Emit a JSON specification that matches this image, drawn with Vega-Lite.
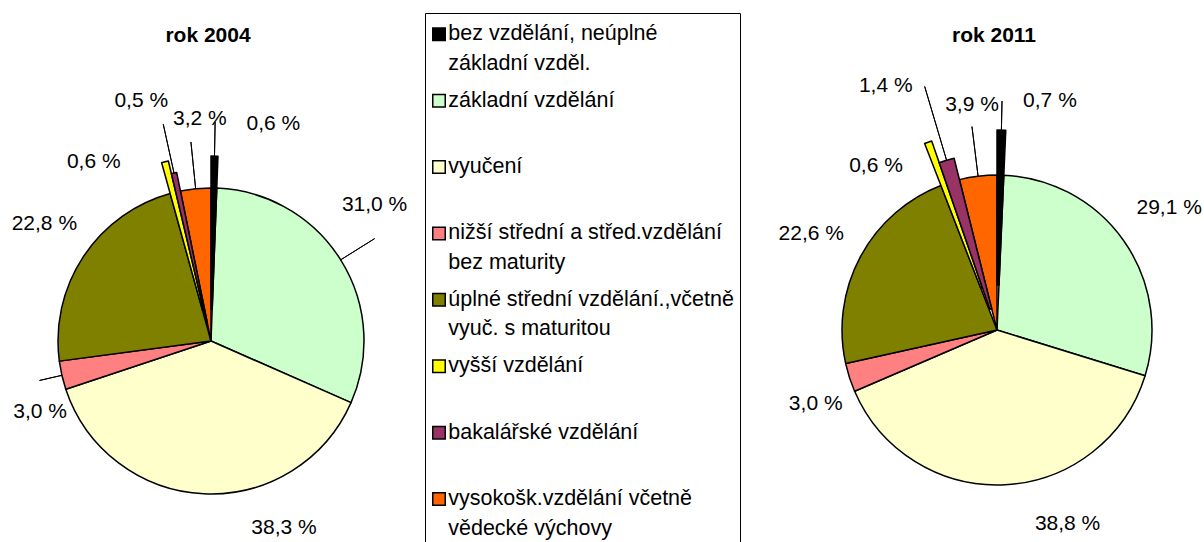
{
  "$schema": "https://vega.github.io/schema/vega-lite/v6.json",
  "width": 1204,
  "height": 542,
  "padding": 0,
  "autosize": {"type": "none"},
  "config": {
    "view": {"stroke": null},
    "font": "Liberation Sans",
    "locale": {"number": {"decimal": ",", "thousands": " ", "grouping": [3], "currency": ["", " Kč"], "percent": " %"}}
  },
  "datasets": {
    "podily": [
      {"rok": "2004", "idx": 1, "kat": "bez vzdělání, neúplné základní vzděl.", "p": 0.006},
      {"rok": "2004", "idx": 2, "kat": "základní vzdělání", "p": 0.310},
      {"rok": "2004", "idx": 3, "kat": "vyučení", "p": 0.383},
      {"rok": "2004", "idx": 4, "kat": "nižší střední a střed.vzdělání bez maturity", "p": 0.030},
      {"rok": "2004", "idx": 5, "kat": "úplné střední vzdělání.,včetně vyuč. s maturitou", "p": 0.228},
      {"rok": "2004", "idx": 6, "kat": "vyšší vzdělání", "p": 0.006},
      {"rok": "2004", "idx": 7, "kat": "bakalářské vzdělání", "p": 0.005},
      {"rok": "2004", "idx": 8, "kat": "vysokošk.vzdělání včetně vědecké výchovy", "p": 0.032},
      {"rok": "2011", "idx": 1, "kat": "bez vzdělání, neúplné základní vzděl.", "p": 0.007},
      {"rok": "2011", "idx": 2, "kat": "základní vzdělání", "p": 0.291},
      {"rok": "2011", "idx": 3, "kat": "vyučení", "p": 0.388},
      {"rok": "2011", "idx": 4, "kat": "nižší střední a střed.vzdělání bez maturity", "p": 0.030},
      {"rok": "2011", "idx": 5, "kat": "úplné střední vzdělání.,včetně vyuč. s maturitou", "p": 0.226},
      {"rok": "2011", "idx": 6, "kat": "vyšší vzdělání", "p": 0.006},
      {"rok": "2011", "idx": 7, "kat": "bakalářské vzdělání", "p": 0.014},
      {"rok": "2011", "idx": 8, "kat": "vysokošk.vzdělání včetně vědecké výchovy", "p": 0.039}
    ],
    "nadpisy": [
      {"rok": "2004", "nazev": "rok 2004"},
      {"rok": "2011", "nazev": "rok 2011"}
    ]
  },
  "data": {"name": "podily"},
  "encoding": {
    "x": {"field": "rok", "type": "nominal", "axis": null, "scale": {"type": "point", "domain": ["2004", "2011"], "range": [211, 997], "padding": 0}},
    "y": {"field": "rok", "type": "nominal", "axis": null, "scale": {"type": "point", "domain": ["2004", "2011"], "range": [341, 330], "padding": 0}},
    "color": {
      "field": "kat",
      "type": "nominal",
      "scale": {
        "domain": ["bez vzdělání, neúplné základní vzděl.", "základní vzdělání", "vyučení", "nižší střední a střed.vzdělání bez maturity", "úplné střední vzdělání.,včetně vyuč. s maturitou", "vyšší vzdělání", "bakalářské vzdělání", "vysokošk.vzdělání včetně vědecké výchovy"],
        "range": ["#000000", "#CCFFCC", "#FFFFCC", "#FF8080", "#808000", "#FFFF00", "#993366", "#FF6600"]
      },
      "legend": {
        "title": " ",
        "titleFontSize": 2,
        "titlePadding": 2.5,
        "orient": "none",
        "legendX": 425,
        "legendY": 13,
        "direction": "vertical",
        "strokeColor": "#000000",
        "padding": 6,
        "symbolType": "square",
        "symbolSize": 156,
        "symbolStrokeColor": "#000000",
        "symbolStrokeWidth": 1.5,
        "symbolOpacity": 1,
        "symbolOffset": -2.75,
        "labelFont": "Liberation Sans",
        "labelFontSize": 21.5,
        "labelColor": "#000000",
        "labelOffset": -1.5,
        "labelLimit": 0,
        "labelBaseline": "middle",
        "rowPadding": 14.4,
        "gridAlign": "all",
        "labelExpr": "datum.label == 'bez vzdělání, neúplné základní vzděl.' ? ['bez vzdělání, neúplné', 'základní vzděl.'] : datum.label == 'nižší střední a střed.vzdělání bez maturity' ? ['nižší střední a střed.vzdělání', 'bez maturity'] : datum.label == 'úplné střední vzdělání.,včetně vyuč. s maturitou' ? ['úplné střední vzdělání.,včetně', 'vyuč. s maturitou'] : datum.label == 'vysokošk.vzdělání včetně vědecké výchovy' ? ['vysokošk.vzdělání včetně', 'vědecké výchovy'] : datum.label",
        "encode": {
          "labels": {"update": {"lineHeight": {"value": 29.5}}},
          "symbols": {"update": {"stroke": {"value": "#000000"}, "strokeWidth": {"value": 1.5}}}
        }
      }
    }
  },
  "layer": [
    {
      "transform": [{"filter": "datum.rok === '2004'"}],
      "encoding": {
        "theta": {"field": "p", "type": "quantitative", "stack": true},
        "order": {"field": "idx", "type": "quantitative"}
      },
      "layer": [
        {"mark": {"type": "arc", "radius": 153, "stroke": "#000000", "strokeWidth": 1.5, "strokeJoin": "round"},
         "encoding": {"opacity": {"condition": {"test": "datum.idx === 1 || datum.idx === 6 || datum.idx === 7", "value": 0}, "value": 1}}},
        {"mark": {"type": "arc", "radius": 185, "radius2": 32, "stroke": "#000000", "strokeWidth": 1.5, "strokeJoin": "round"},
         "encoding": {"opacity": {"condition": {"test": "datum.idx === 1 || datum.idx === 6", "value": 1}, "value": 0}}},
        {"mark": {"type": "arc", "radius": 172, "radius2": 19, "stroke": "#000000", "strokeWidth": 1.5, "strokeJoin": "round"},
         "encoding": {"opacity": {"condition": {"test": "datum.idx === 7", "value": 1}, "value": 0}}},
        {"mark": {"type": "arc", "radius": 193, "radius2": 153, "padAngle": 3.14, "filled": false, "strokeWidth": 1},
         "encoding": {"color": {"value": "#000000"}, "opacity": {"condition": {"test": "datum.idx === 2", "value": 1}, "value": 0}}},
        {"mark": {"type": "arc", "radius": 176, "radius2": 153, "padAngle": 3.14, "filled": false, "strokeWidth": 1},
         "encoding": {"color": {"value": "#000000"}, "opacity": {"condition": {"test": "datum.idx === 4", "value": 1}, "value": 0}}},
        {"mark": {"type": "arc", "radius": 200, "radius2": 153, "padAngle": 3.14, "filled": false, "strokeWidth": 1},
         "encoding": {"color": {"value": "#000000"}, "opacity": {"condition": {"test": "datum.idx === 8", "value": 1}, "value": 0}}},
        {"mark": {"type": "arc", "radius": 219, "radius2": 185, "padAngle": 3.14, "filled": false, "strokeWidth": 1},
         "encoding": {"color": {"value": "#000000"}, "opacity": {"condition": {"test": "datum.idx === 1", "value": 1}, "value": 0}}},
        {"mark": {"type": "arc", "radius": 222, "radius2": 172, "padAngle": 3.14, "filled": false, "strokeWidth": 1},
         "encoding": {"color": {"value": "#000000"}, "opacity": {"condition": {"test": "datum.idx === 7", "value": 1}, "value": 0}}},
        {"mark": {"type": "text", "radius": 180, "dx": 59, "dy": -37.5, "fontSize": 21, "align": "center", "baseline": "middle"},
         "encoding": {"color": {"value": "#000000"}, "text": {"condition": {"test": "datum.idx === 1", "field": "p", "type": "quantitative", "format": ".1%"}, "value": ""}}},
        {"mark": {"type": "text", "radius": 180, "dx": 11, "dy": -40.5, "fontSize": 21, "align": "center", "baseline": "middle"},
         "encoding": {"color": {"value": "#000000"}, "text": {"condition": {"test": "datum.idx === 2", "field": "p", "type": "quantitative", "format": ".1%"}, "value": ""}}},
        {"mark": {"type": "text", "radius": 180, "dx": 81.5, "dy": 7.5, "fontSize": 21, "align": "center", "baseline": "middle"},
         "encoding": {"color": {"value": "#000000"}, "text": {"condition": {"test": "datum.idx === 3", "field": "p", "type": "quantitative", "format": ".1%"}, "value": ""}}},
        {"mark": {"type": "text", "radius": 180, "dx": 4.5, "dy": 31, "fontSize": 21, "align": "center", "baseline": "middle"},
         "encoding": {"color": {"value": "#000000"}, "text": {"condition": {"test": "datum.idx === 4", "field": "p", "type": "quantitative", "format": ".1%"}, "value": ""}}},
        {"mark": {"type": "text", "radius": 180, "dx": -16.5, "dy": -17.5, "fontSize": 21, "align": "center", "baseline": "middle"},
         "encoding": {"color": {"value": "#000000"}, "text": {"condition": {"test": "datum.idx === 5", "field": "p", "type": "quantitative", "format": ".1%"}, "value": ""}}},
        {"mark": {"type": "text", "radius": 180, "dx": -72.5, "dy": -5, "fontSize": 21, "align": "center", "baseline": "middle"},
         "encoding": {"color": {"value": "#000000"}, "text": {"condition": {"test": "datum.idx === 6", "field": "p", "type": "quantitative", "format": ".1%"}, "value": ""}}},
        {"mark": {"type": "text", "radius": 180, "dx": -31, "dy": -64.5, "fontSize": 21, "align": "center", "baseline": "middle"},
         "encoding": {"color": {"value": "#000000"}, "text": {"condition": {"test": "datum.idx === 7", "field": "p", "type": "quantitative", "format": ".1%"}, "value": ""}}},
        {"mark": {"type": "text", "radius": 180, "dx": 7, "dy": -42.5, "fontSize": 21, "align": "center", "baseline": "middle"},
         "encoding": {"color": {"value": "#000000"}, "text": {"condition": {"test": "datum.idx === 8", "field": "p", "type": "quantitative", "format": ".1%"}, "value": ""}}}
      ]
    },
    {
      "transform": [{"filter": "datum.rok === '2011'"}],
      "encoding": {
        "theta": {"field": "p", "type": "quantitative", "stack": true},
        "order": {"field": "idx", "type": "quantitative"}
      },
      "layer": [
        {"mark": {"type": "arc", "radius": 155, "stroke": "#000000", "strokeWidth": 1.5, "strokeJoin": "round"},
         "encoding": {"opacity": {"condition": {"test": "datum.idx === 1 || datum.idx === 6 || datum.idx === 7", "value": 0}, "value": 1}}},
        {"mark": {"type": "arc", "radius": 200, "radius2": 45, "stroke": "#000000", "strokeWidth": 1.5, "strokeJoin": "round"},
         "encoding": {"opacity": {"condition": {"test": "datum.idx === 1 || datum.idx === 6", "value": 1}, "value": 0}}},
        {"mark": {"type": "arc", "radius": 177, "radius2": 22, "stroke": "#000000", "strokeWidth": 1.5, "strokeJoin": "round"},
         "encoding": {"opacity": {"condition": {"test": "datum.idx === 7", "value": 1}, "value": 0}}},
        {"mark": {"type": "arc", "radius": 205, "radius2": 155, "padAngle": 3.14, "filled": false, "strokeWidth": 1},
         "encoding": {"color": {"value": "#000000"}, "opacity": {"condition": {"test": "datum.idx === 8", "value": 1}, "value": 0}}},
        {"mark": {"type": "arc", "radius": 254, "radius2": 177, "padAngle": 3.14, "filled": false, "strokeWidth": 1},
         "encoding": {"color": {"value": "#000000"}, "opacity": {"condition": {"test": "datum.idx === 7", "value": 1}, "value": 0}}},
        {"mark": {"type": "arc", "radius": 229, "radius2": 200, "padAngle": 3.14, "filled": false, "strokeWidth": 1},
         "encoding": {"color": {"value": "#000000"}, "opacity": {"condition": {"test": "datum.idx === 1", "value": 1}, "value": 0}}},
        {"mark": {"type": "text", "radius": 180, "dx": 49, "dy": -49.5, "fontSize": 21, "align": "center", "baseline": "middle"},
         "encoding": {"color": {"value": "#000000"}, "text": {"condition": {"test": "datum.idx === 1", "field": "p", "type": "quantitative", "format": ".1%"}, "value": ""}}},
        {"mark": {"type": "text", "radius": 180, "dx": 25, "dy": -18.5, "fontSize": 21, "align": "center", "baseline": "middle"},
         "encoding": {"color": {"value": "#000000"}, "text": {"condition": {"test": "datum.idx === 2", "field": "p", "type": "quantitative", "format": ".1%"}, "value": ""}}},
        {"mark": {"type": "text", "radius": 180, "dx": 61, "dy": 14, "fontSize": 21, "align": "center", "baseline": "middle"},
         "encoding": {"color": {"value": "#000000"}, "text": {"condition": {"test": "datum.idx === 3", "field": "p", "type": "quantitative", "format": ".1%"}, "value": ""}}},
        {"mark": {"type": "text", "radius": 180, "dx": -10, "dy": 19, "fontSize": 21, "align": "center", "baseline": "middle"},
         "encoding": {"color": {"value": "#000000"}, "text": {"condition": {"test": "datum.idx === 4", "field": "p", "type": "quantitative", "format": ".1%"}, "value": ""}}},
        {"mark": {"type": "text", "radius": 180, "dx": -27, "dy": -11, "fontSize": 21, "align": "center", "baseline": "middle"},
         "encoding": {"color": {"value": "#000000"}, "text": {"condition": {"test": "datum.idx === 5", "field": "p", "type": "quantitative", "format": ".1%"}, "value": ""}}},
        {"mark": {"type": "text", "radius": 180, "dx": -59, "dy": 4.5, "fontSize": 21, "align": "center", "baseline": "middle"},
         "encoding": {"color": {"value": "#000000"}, "text": {"condition": {"test": "datum.idx === 6", "field": "p", "type": "quantitative", "format": ".1%"}, "value": ""}}},
        {"mark": {"type": "text", "radius": 180, "dx": -60, "dy": -71, "fontSize": 21, "align": "center", "baseline": "middle"},
         "encoding": {"color": {"value": "#000000"}, "text": {"condition": {"test": "datum.idx === 7", "field": "p", "type": "quantitative", "format": ".1%"}, "value": ""}}},
        {"mark": {"type": "text", "radius": 180, "dx": -3, "dy": -46, "fontSize": 21, "align": "center", "baseline": "middle"},
         "encoding": {"color": {"value": "#000000"}, "text": {"condition": {"test": "datum.idx === 8", "field": "p", "type": "quantitative", "format": ".1%"}, "value": ""}}}
      ]
    },
    {
      "data": {"name": "nadpisy"},
      "transform": [{"filter": "datum.rok === '2004'"}],
      "mark": {"type": "text", "fontSize": 21, "fontWeight": "bold", "dx": -3, "dy": -299, "align": "center", "baseline": "alphabetic"},
      "encoding": {"text": {"field": "nazev"}, "color": {"value": "#000000"}}
    },
    {
      "data": {"name": "nadpisy"},
      "transform": [{"filter": "datum.rok === '2011'"}],
      "mark": {"type": "text", "fontSize": 21, "fontWeight": "bold", "dx": -3, "dy": -288, "align": "center", "baseline": "alphabetic"},
      "encoding": {"text": {"field": "nazev"}, "color": {"value": "#000000"}}
    }
  ],
  "resolve": {"scale": {"theta": "independent"}}
}
